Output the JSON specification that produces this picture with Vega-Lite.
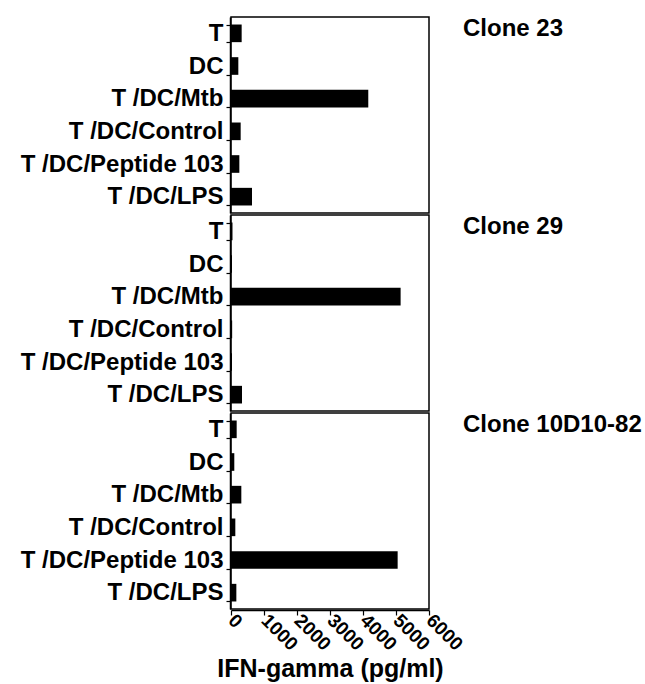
{
  "$schema": "https://vega.github.io/schema/vega-lite/v6.json",
  "padding": {"left": 20, "top": 5, "right": 0, "bottom": 0},
  "background": "white",
  "data": {"values": [
    {"clone": "Clone 23", "condition": "T", "value": 323},
    {"clone": "Clone 23", "condition": "DC", "value": 222},
    {"clone": "Clone 23", "condition": "T /DC/Mtb", "value": 4160},
    {"clone": "Clone 23", "condition": "T /DC/Control", "value": 293},
    {"clone": "Clone 23", "condition": "T /DC/Peptide 103", "value": 253},
    {"clone": "Clone 23", "condition": "T /DC/LPS", "value": 636},
    {"clone": "Clone 29", "condition": "T", "value": 45},
    {"clone": "Clone 29", "condition": "DC", "value": 30},
    {"clone": "Clone 29", "condition": "T /DC/Mtb", "value": 5140},
    {"clone": "Clone 29", "condition": "T /DC/Control", "value": 35},
    {"clone": "Clone 29", "condition": "T /DC/Peptide 103", "value": 30},
    {"clone": "Clone 29", "condition": "T /DC/LPS", "value": 333},
    {"clone": "Clone 10D10-82", "condition": "T", "value": 172},
    {"clone": "Clone 10D10-82", "condition": "DC", "value": 100},
    {"clone": "Clone 10D10-82", "condition": "T /DC/Mtb", "value": 313},
    {"clone": "Clone 10D10-82", "condition": "T /DC/Control", "value": 131},
    {"clone": "Clone 10D10-82", "condition": "T /DC/Peptide 103", "value": 5050},
    {"clone": "Clone 10D10-82", "condition": "T /DC/LPS", "value": 162}
  ]},
  "facet": {
    "row": {
      "field": "clone", "type": "nominal",
      "sort": ["Clone 23", "Clone 29", "Clone 10D10-82"],
      "header": {
        "title": null, "labelOrient": "right", "labelAngle": 0,
        "labelAlign": "right", "labelAnchor": "start", "labelBaseline": "top",
        "labelPadding": 33, "labelFont": "Liberation Sans", "labelFontWeight": "bold",
        "labelFontSize": 24, "labelColor": "black", "labelLimit": 0
      }
    }
  },
  "spacing": 0,
  "spec": {
    "width": 198,
    "height": 196,
    "mark": {"type": "bar", "color": "black"},
    "encoding": {
      "y": {
        "field": "condition", "type": "nominal",
        "sort": ["T", "DC", "T /DC/Mtb", "T /DC/Control", "T /DC/Peptide 103", "T /DC/LPS"],
        "title": null,
        "scale": {"paddingInner": 0.46, "paddingOuter": 0.23},
        "axis": {"tickBand": "extent", "tickSize": 4, "labelPadding": 3, "labelFontSize": 24, "labelLimit": 0}
      },
      "x": {
        "field": "value", "type": "quantitative",
        "scale": {"domain": [0, 6000], "nice": false},
        "title": "IFN-gamma (pg/ml)",
        "axis": {
          "values": [0, 1000, 2000, 3000, 4000, 5000, 6000], "format": "d",
          "labelAngle": 45, "labelAlign": "left", "labelBaseline": "middle",
          "labelFontSize": 19, "tickSize": 5, "labelPadding": 2,
          "titleFontSize": 25, "titlePadding": 3, "labelFlush": false, "labelOverlap": false
        }
      }
    }
  },
  "config": {
    "view": {"stroke": "black", "strokeWidth": 1.5},
    "axis": {
      "grid": false, "domainColor": "black", "domainWidth": 1.5,
      "tickColor": "black", "tickWidth": 1.2,
      "labelColor": "black", "titleColor": "black",
      "labelFont": "Liberation Sans", "titleFont": "Liberation Sans",
      "labelFontWeight": "bold", "titleFontWeight": "bold"
    }
  }
}
